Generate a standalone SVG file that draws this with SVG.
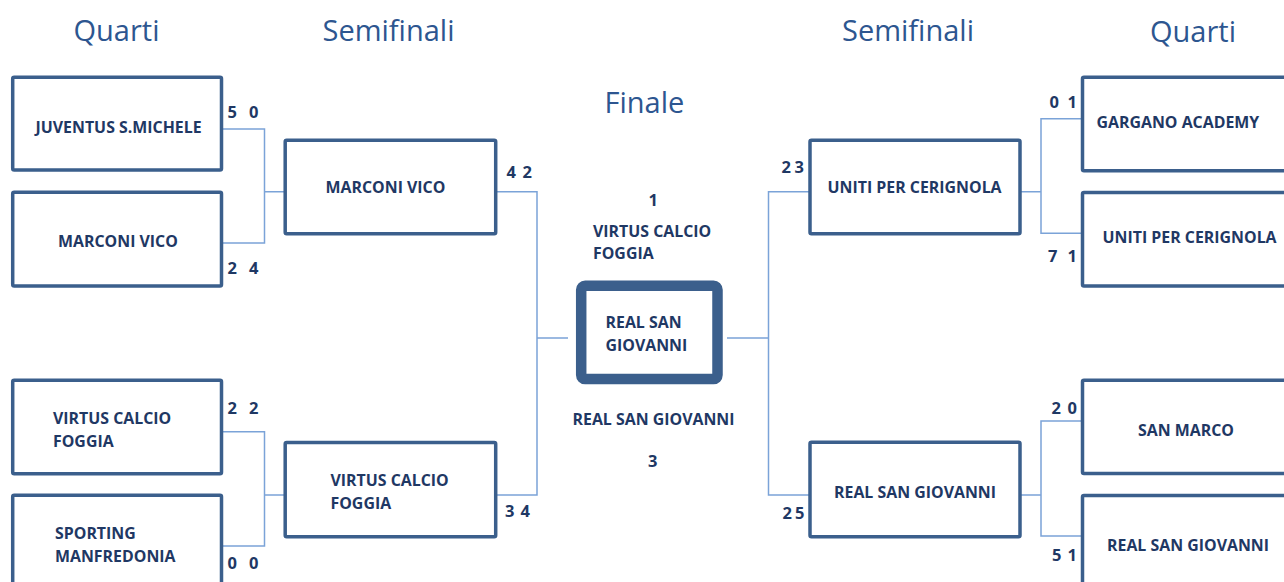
<svg xmlns="http://www.w3.org/2000/svg" width="1284" height="582" viewBox="0 0 1284 582">
<style>
.box{fill:#fff;stroke:#3B5F8C;stroke-width:3.5}
.fin{fill:#fff;stroke:#3B5F8C;stroke-width:10.5}
.t{font-family:"Open Sans","Liberation Sans",sans-serif;font-weight:700;font-size:15.9px;fill:#1F3864}
.n{font-family:"Open Sans","Liberation Sans",sans-serif;font-weight:700;font-size:16.5px;fill:#1F3864}
.h{font-family:"Open Sans","Liberation Sans",sans-serif;font-size:29px;fill:#2D5690}
.c{fill:none;stroke:#7BA3D8;stroke-width:1.5}
</style>
<rect width="1284" height="582" fill="#fff"/>
<g id="headers">
<text class="h" x="73.5" y="41">Quarti</text>
<text class="h" x="322.5" y="41">Semifinali</text>
<text class="h" x="604.5" y="113.3">Finale</text>
<text class="h" x="842" y="41">Semifinali</text>
<text class="h" x="1150" y="42">Quarti</text>
</g>
<g id="connectors">
<path class="c" d="M222,129 H264.5 V243 H222 M264.5,191.7 H285"/>
<path class="c" d="M222,431.7 H264.5 V546 H222 M264.5,495 H285"/>
<path class="c" d="M496,191.7 H537 V495 H496 M537,338 H568"/>
<path class="c" d="M727,338 H768.5 M810,191.7 H768.5 V495 H810"/>
<path class="c" d="M1020,191.7 H1041 M1082,118.7 H1041 V233.3 H1082"/>
<path class="c" d="M1020,495 H1041 M1082,421 H1041 V536 H1082"/>
</g>
<g id="q1">
<rect class="box" x="12.7" y="77.3" width="208.8" height="92.7" rx="1.5"/>
<text class="t" x="35.5" y="132.7">JUVENTUS S.MICHELE</text>
<text class="n" x="227.5" y="117.7">5</text><text class="n" x="249" y="117.7">0</text>
</g>
<g id="q2">
<rect class="box" x="12.7" y="192.3" width="208.8" height="93.7" rx="1.5"/>
<text class="t" x="58" y="246.7">MARCONI VICO</text>
<text class="n" x="227.5" y="274.3">2</text><text class="n" x="249" y="274.3">4</text>
</g>
<g id="q3">
<rect class="box" x="12.7" y="380.3" width="208.8" height="93.5" rx="1.5"/>
<text class="t" x="53" y="424">VIRTUS CALCIO</text>
<text class="t" x="53" y="446.7">FOGGIA</text>
<text class="n" x="227.5" y="414.3">2</text><text class="n" x="249" y="414.3">2</text>
</g>
<g id="q4">
<rect class="box" x="12.7" y="495.2" width="208.8" height="100" rx="1.5"/>
<text class="t" x="55" y="539">SPORTING</text>
<text class="t" x="55" y="561.7">MANFREDONIA</text>
<text class="n" x="227.5" y="569">0</text><text class="n" x="249" y="569">0</text>
</g>
<g id="s1">
<rect class="box" x="285.2" y="140.2" width="210.5" height="93.6" rx="1.5"/>
<text class="t" x="325.5" y="192.7">MARCONI VICO</text>
<text class="n" x="506.5" y="178.3">4</text><text class="n" x="522.5" y="178.3">2</text>
</g>
<g id="s2">
<rect class="box" x="285.2" y="442.5" width="210.5" height="94.2" rx="1.5"/>
<text class="t" x="330.5" y="486">VIRTUS CALCIO</text>
<text class="t" x="330.5" y="509.3">FOGGIA</text>
<text class="n" x="505" y="517.3">3</text><text class="n" x="520.5" y="517.3">4</text>
</g>
<g id="final">
<rect class="fin" x="581.2" y="285.8" width="136.3" height="93.3" rx="4"/>
<text class="t" x="605.5" y="328.3">REAL SAN</text>
<text class="t" x="605.5" y="351">GIOVANNI</text>
<text class="n" x="648.5" y="205.7">1</text>
<text class="t" x="593" y="236.7">VIRTUS CALCIO</text>
<text class="t" x="593" y="259.3">FOGGIA</text>
<text class="t" x="572.5" y="425">REAL SAN GIOVANNI</text>
<text class="n" x="648" y="466.7">3</text>
</g>
<g id="s3">
<rect class="box" x="810" y="140.2" width="210" height="93.6" rx="1.5"/>
<text class="t" x="827.5" y="193.3">UNITI PER CERIGNOLA</text>
<text class="n" x="781.5" y="173.3">2</text><text class="n" x="794.5" y="173.3">3</text>
</g>
<g id="s4">
<rect class="box" x="810" y="442.3" width="210" height="94.5" rx="1.5"/>
<text class="t" x="834" y="497.7">REAL SAN GIOVANNI</text>
<text class="n" x="782.5" y="519">2</text><text class="n" x="795" y="519">5</text>
</g>
<g id="q5">
<rect class="box" x="1082.5" y="77.3" width="210" height="93.4" rx="1.5"/>
<text class="t" x="1096.5" y="128.3">GARGANO ACADEMY</text>
<text class="n" x="1049.5" y="108.3">0</text><text class="n" x="1067.5" y="108.3">1</text>
</g>
<g id="q6">
<rect class="box" x="1082.5" y="192.5" width="210" height="93.5" rx="1.5"/>
<text class="t" x="1102.5" y="243.3">UNITI PER CERIGNOLA</text>
<text class="n" x="1048" y="261.7">7</text><text class="n" x="1067.5" y="261.7">1</text>
</g>
<g id="q7">
<rect class="box" x="1082.5" y="380.3" width="210" height="93.3" rx="1.5"/>
<text class="t" x="1138" y="435.7">SAN MARCO</text>
<text class="n" x="1051.5" y="414.3">2</text><text class="n" x="1067.5" y="414.3">0</text>
</g>
<g id="q8">
<rect class="box" x="1082.5" y="495.5" width="210" height="100" rx="1.5"/>
<text class="t" x="1107" y="551">REAL SAN GIOVANNI</text>
<text class="n" x="1052" y="561">5</text><text class="n" x="1067.5" y="561">1</text>
</g>
</svg>
